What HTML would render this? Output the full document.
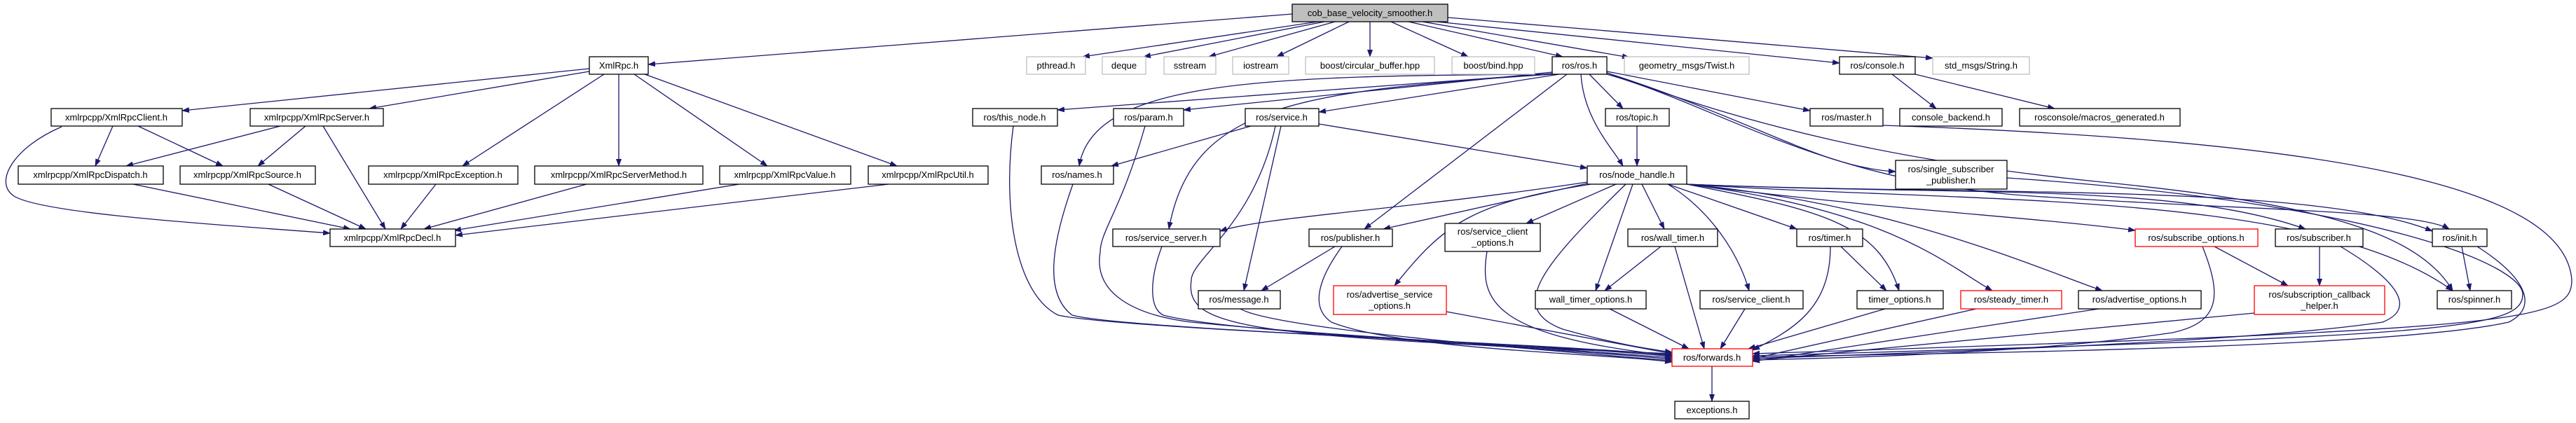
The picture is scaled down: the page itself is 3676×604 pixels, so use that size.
<!DOCTYPE html>
<html><head><meta charset="utf-8"><style>
html,body{margin:0;padding:0;background:#fff;}
svg{display:block;}
text{font-family:"Liberation Sans",sans-serif;font-size:13px;fill:#000;}
.e{fill:none;stroke:#191970;stroke-width:1.3;}
</style></head><body>
<svg width="3676" height="604" viewBox="0 0 3676 604" xmlns="http://www.w3.org/2000/svg">
<defs><marker id="a" markerUnits="userSpaceOnUse" markerWidth="11" markerHeight="8" refX="10" refY="4" orient="auto"><path d="M0,0 L11,4 L0,8 z" fill="#191970"/></marker></defs>
<g class="e" marker-end="url(#a)">
<path d="M1844,20 L925,92"/>
<path d="M1880,31 L1545,81"/>
<path d="M1890,31 L1632,81"/>
<path d="M1905,31 L1725,81"/>
<path d="M1925,31 L1822,81"/>
<path d="M1955,31 L1955,81"/>
<path d="M1985,31 L2095,81"/>
<path d="M2010,31 L2230,81"/>
<path d="M2030,31 L2325,82"/>
<path d="M2050,31 L2625,90"/>
<path d="M2066,25 L2758,83"/>
<path d="M841,98 L260,158"/>
<path d="M841,102 L527,155"/>
<path d="M862,106 L660,237"/>
<path d="M883,106 L883,237"/>
<path d="M905,106 L1095,237"/>
<path d="M920,106 L1280,237"/>
<path d="M161,180 L136,237"/>
<path d="M197,180 L318,237"/>
<path d="M88,181 C20,210 -10,260 20,280 C60,305 300,320 471,333"/>
<path d="M400,180 L180,237"/>
<path d="M436,180 L368,237"/>
<path d="M461,180 L550,327"/>
<path d="M190,263 L500,327"/>
<path d="M383,263 L522,327"/>
<path d="M622,263 L572,327"/>
<path d="M837,263 L605,327"/>
<path d="M1055,263 L648,329"/>
<path d="M1268,263 L650,336"/>
<path d="M2215,105 L1509,157"/>
<path d="M2215,103 L1689,157"/>
<path d="M2225,106 L1882,160"/>
<path d="M2215,106 C1800,108 1560,115 1540,237"/>
<path d="M2215,106 C1850,130 1700,150 1668,327"/>
<path d="M2236,106 L1947,327"/>
<path d="M2256,106 C2260,170 2300,210 2316,237"/>
<path d="M2268,106 L2316,155"/>
<path d="M2293,102 L2583,158"/>
<path d="M2293,104 C2500,170 2600,240 2705,245"/>
<path d="M2293,106 C2450,150 2600,260 2900,280 C3200,300 3450,300 3495,327"/>
<path d="M2293,104 C2500,180 2700,230 3000,260 C3300,290 3450,330 3500,415"/>
<path d="M2687,179 C3300,200 3660,260 3670,400 C3670,460 3600,470 2501,505"/>
<path d="M2864,254 C3400,290 3600,380 3600,420 C3600,470 3500,480 2501,508"/>
<path d="M3535,352 C3610,400 3620,440 3580,460 C3400,500 2700,505 2501,510"/>
<path d="M3340,352 C3420,400 3450,440 3400,460 C3200,490 2700,505 2501,512"/>
<path d="M3217,447 L2501,515"/>
<path d="M3143,352 C3170,420 3170,460 3100,475 C2900,505 2600,512 2501,514"/>
<path d="M3160,352 L3265,408"/>
<path d="M3310,352 L3310,408"/>
<path d="M3513,352 L3525,415"/>
<path d="M2820,441 L2501,512"/>
<path d="M2995,441 L2501,516"/>
<path d="M2690,441 L2495,498"/>
<path d="M2700,106 L2763,155"/>
<path d="M2733,106 L2932,155"/>
<path d="M1785,180 L1586,237"/>
<path d="M1882,177 L2265,240"/>
<path d="M1828,180 L1775,415"/>
<path d="M1820,180 C1790,320 1700,370 1700,400 C1690,470 1780,480 2386,505"/>
<path d="M1446,180 C1430,300 1450,420 1510,450 C1600,470 2200,490 2386,507"/>
<path d="M1531,263 C1500,350 1490,420 1530,450 C1600,470 2200,490 2386,509"/>
<path d="M1634,180 C1600,300 1570,330 1570,360 C1560,420 1620,450 1700,460 C1900,480 2200,495 2386,511"/>
<path d="M1658,352 C1640,400 1640,440 1660,450 C1750,475 2200,495 2386,513"/>
<path d="M1770,441 C1820,470 2200,500 2386,515"/>
<path d="M1905,352 L1800,415"/>
<path d="M1915,352 C1880,400 1870,440 1900,460 C2000,500 2300,505 2386,517"/>
<path d="M2265,260 C2000,300 1800,310 1741,330"/>
<path d="M2265,262 L1974,327"/>
<path d="M2270,263 C2100,290 2060,320 1990,408"/>
<path d="M2306,263 L2178,319"/>
<path d="M2320,263 C2200,380 2150,440 2230,470 C2300,490 2350,498 2386,503"/>
<path d="M2330,263 L2277,415"/>
<path d="M2343,263 L2375,327"/>
<path d="M2380,263 C2440,300 2480,360 2496,415"/>
<path d="M2380,263 L2564,327"/>
<path d="M2407,263 C2600,300 2680,320 2710,415"/>
<path d="M2407,263 C2700,300 2780,380 2843,415"/>
<path d="M2407,263 C2700,290 2900,380 3000,415"/>
<path d="M2407,263 C2700,300 2900,310 3047,329"/>
<path d="M2407,263 C2800,280 3100,260 3290,327"/>
<path d="M2407,263 C2800,280 3300,260 3471,330"/>
<path d="M2407,263 C2800,290 3300,270 3500,415"/>
<path d="M2122,359 C2110,430 2130,480 2386,508"/>
<path d="M2064,445 L2386,505"/>
<path d="M2370,352 L2290,415"/>
<path d="M2390,352 L2432,498"/>
<path d="M2297,441 L2410,498"/>
<path d="M2490,441 L2455,498"/>
<path d="M2627,352 L2692,415"/>
<path d="M2612,352 C2612,440 2560,470 2501,500"/>
<path d="M2336,180 L2336,237"/>
<path d="M2443,523 L2443,573"/>
</g>
<g stroke-width="1.3">
<!-- nodes: rect x,y,w,h -->
<rect x="1844" y="6" width="222" height="25" fill="#bfbfbf" stroke="#000"/><text x="1955" y="23" text-anchor="middle">cob_base_velocity_smoother.h</text>
<rect x="841" y="81" width="84" height="25" fill="#fff" stroke="#000"/><text x="883" y="98" text-anchor="middle">XmlRpc.h</text>
<rect x="1465" y="81" width="84" height="25" fill="#fff" stroke="#bfbfbf"/><text x="1507" y="98" text-anchor="middle">pthread.h</text>
<rect x="1573" y="81" width="62" height="25" fill="#fff" stroke="#bfbfbf"/><text x="1604" y="98" text-anchor="middle">deque</text>
<rect x="1661" y="81" width="74" height="25" fill="#fff" stroke="#bfbfbf"/><text x="1698" y="98" text-anchor="middle">sstream</text>
<rect x="1759" y="81" width="80" height="25" fill="#fff" stroke="#bfbfbf"/><text x="1799" y="98" text-anchor="middle">iostream</text>
<rect x="1863" y="81" width="184" height="25" fill="#fff" stroke="#bfbfbf"/><text x="1955" y="98" text-anchor="middle">boost/circular_buffer.hpp</text>
<rect x="2072" y="81" width="118" height="25" fill="#fff" stroke="#bfbfbf"/><text x="2131" y="98" text-anchor="middle">boost/bind.hpp</text>
<rect x="2215" y="81" width="78" height="25" fill="#fff" stroke="#000"/><text x="2254" y="98" text-anchor="middle">ros/ros.h</text>
<rect x="2318" y="81" width="178" height="25" fill="#fff" stroke="#bfbfbf"/><text x="2407" y="98" text-anchor="middle">geometry_msgs/Twist.h</text>
<rect x="2625" y="81" width="108" height="25" fill="#fff" stroke="#000"/><text x="2679" y="98" text-anchor="middle">ros/console.h</text>
<rect x="2758" y="81" width="138" height="25" fill="#fff" stroke="#bfbfbf"/><text x="2827" y="98" text-anchor="middle">std_msgs/String.h</text>

<rect x="73" y="155" width="187" height="25" fill="#fff" stroke="#000"/><text x="166" y="172" text-anchor="middle">xmlrpcpp/XmlRpcClient.h</text>
<rect x="357" y="155" width="190" height="25" fill="#fff" stroke="#000"/><text x="452" y="172" text-anchor="middle">xmlrpcpp/XmlRpcServer.h</text>
<rect x="1388" y="155" width="121" height="25" fill="#fff" stroke="#000"/><text x="1448" y="172" text-anchor="middle">ros/this_node.h</text>
<rect x="1589" y="155" width="100" height="25" fill="#fff" stroke="#000"/><text x="1639" y="172" text-anchor="middle">ros/param.h</text>
<rect x="1777" y="155" width="105" height="25" fill="#fff" stroke="#000"/><text x="1829" y="172" text-anchor="middle">ros/service.h</text>
<rect x="2291" y="155" width="91" height="25" fill="#fff" stroke="#000"/><text x="2336" y="172" text-anchor="middle">ros/topic.h</text>
<rect x="2583" y="155" width="104" height="25" fill="#fff" stroke="#000"/><text x="2635" y="172" text-anchor="middle">ros/master.h</text>
<rect x="2711" y="155" width="146" height="25" fill="#fff" stroke="#000"/><text x="2784" y="172" text-anchor="middle">console_backend.h</text>
<rect x="2882" y="155" width="229" height="25" fill="#fff" stroke="#000"/><text x="2996" y="172" text-anchor="middle">rosconsole/macros_generated.h</text>

<rect x="26" y="237" width="207" height="26" fill="#fff" stroke="#000"/><text x="129" y="254" text-anchor="middle">xmlrpcpp/XmlRpcDispatch.h</text>
<rect x="257" y="237" width="193" height="26" fill="#fff" stroke="#000"/><text x="353" y="254" text-anchor="middle">xmlrpcpp/XmlRpcSource.h</text>
<rect x="526" y="237" width="213" height="26" fill="#fff" stroke="#000"/><text x="632" y="254" text-anchor="middle">xmlrpcpp/XmlRpcException.h</text>
<rect x="763" y="237" width="240" height="26" fill="#fff" stroke="#000"/><text x="883" y="254" text-anchor="middle">xmlrpcpp/XmlRpcServerMethod.h</text>
<rect x="1027" y="237" width="187" height="26" fill="#fff" stroke="#000"/><text x="1120" y="254" text-anchor="middle">xmlrpcpp/XmlRpcValue.h</text>
<rect x="1239" y="237" width="171" height="26" fill="#fff" stroke="#000"/><text x="1324" y="254" text-anchor="middle">xmlrpcpp/XmlRpcUtil.h</text>
<rect x="1486" y="237" width="103" height="26" fill="#fff" stroke="#000"/><text x="1537" y="254" text-anchor="middle">ros/names.h</text>
<rect x="2265" y="237" width="142" height="26" fill="#fff" stroke="#000"/><text x="2336" y="254" text-anchor="middle">ros/node_handle.h</text>
<rect x="2705" y="229" width="159" height="41" fill="#fff" stroke="#000"/><text x="2784" y="246" text-anchor="middle">ros/single_subscriber</text><text x="2784" y="262" text-anchor="middle">_publisher.h</text>

<rect x="471" y="327" width="179" height="25" fill="#fff" stroke="#000"/><text x="560" y="344" text-anchor="middle">xmlrpcpp/XmlRpcDecl.h</text>
<rect x="1588" y="327" width="153" height="25" fill="#fff" stroke="#000"/><text x="1664" y="344" text-anchor="middle">ros/service_server.h</text>
<rect x="1868" y="327" width="119" height="25" fill="#fff" stroke="#000"/><text x="1927" y="344" text-anchor="middle">ros/publisher.h</text>
<rect x="2062" y="319" width="136" height="40" fill="#fff" stroke="#000"/><text x="2130" y="335" text-anchor="middle">ros/service_client</text><text x="2130" y="351" text-anchor="middle">_options.h</text>
<rect x="2323" y="327" width="128" height="25" fill="#fff" stroke="#000"/><text x="2387" y="344" text-anchor="middle">ros/wall_timer.h</text>
<rect x="2564" y="327" width="94" height="25" fill="#fff" stroke="#000"/><text x="2611" y="344" text-anchor="middle">ros/timer.h</text>
<rect x="3047" y="327" width="175" height="25" fill="#fff" stroke="#ff0000"/><text x="3134" y="344" text-anchor="middle">ros/subscribe_options.h</text>
<rect x="3247" y="327" width="125" height="25" fill="#fff" stroke="#000"/><text x="3309" y="344" text-anchor="middle">ros/subscriber.h</text>
<rect x="3471" y="327" width="78" height="25" fill="#fff" stroke="#000"/><text x="3510" y="344" text-anchor="middle">ros/init.h</text>

<rect x="1710" y="415" width="117" height="26" fill="#fff" stroke="#000"/><text x="1768" y="432" text-anchor="middle">ros/message.h</text>
<rect x="1903" y="408" width="161" height="41" fill="#fff" stroke="#ff0000"/><text x="1983" y="425" text-anchor="middle">ros/advertise_service</text><text x="1983" y="441" text-anchor="middle">_options.h</text>
<rect x="2191" y="415" width="158" height="26" fill="#fff" stroke="#000"/><text x="2270" y="432" text-anchor="middle">wall_timer_options.h</text>
<rect x="2426" y="415" width="147" height="26" fill="#fff" stroke="#000"/><text x="2499" y="432" text-anchor="middle">ros/service_client.h</text>
<rect x="2650" y="415" width="123" height="26" fill="#fff" stroke="#000"/><text x="2711" y="432" text-anchor="middle">timer_options.h</text>
<rect x="2798" y="415" width="144" height="26" fill="#fff" stroke="#ff0000"/><text x="2870" y="432" text-anchor="middle">ros/steady_timer.h</text>
<rect x="2966" y="415" width="175" height="26" fill="#fff" stroke="#000"/><text x="3053" y="432" text-anchor="middle">ros/advertise_options.h</text>
<rect x="3217" y="408" width="186" height="41" fill="#fff" stroke="#ff0000"/><text x="3310" y="425" text-anchor="middle">ros/subscription_callback</text><text x="3310" y="441" text-anchor="middle">_helper.h</text>
<rect x="3478" y="415" width="106" height="26" fill="#fff" stroke="#000"/><text x="3531" y="432" text-anchor="middle">ros/spinner.h</text>

<rect x="2386" y="498" width="115" height="25" fill="#fff" stroke="#ff0000"/><text x="2443" y="515" text-anchor="middle">ros/forwards.h</text>
<rect x="2390" y="573" width="106" height="25" fill="#fff" stroke="#000"/><text x="2443" y="590" text-anchor="middle">exceptions.h</text>
</g>
</svg>
</body></html>
